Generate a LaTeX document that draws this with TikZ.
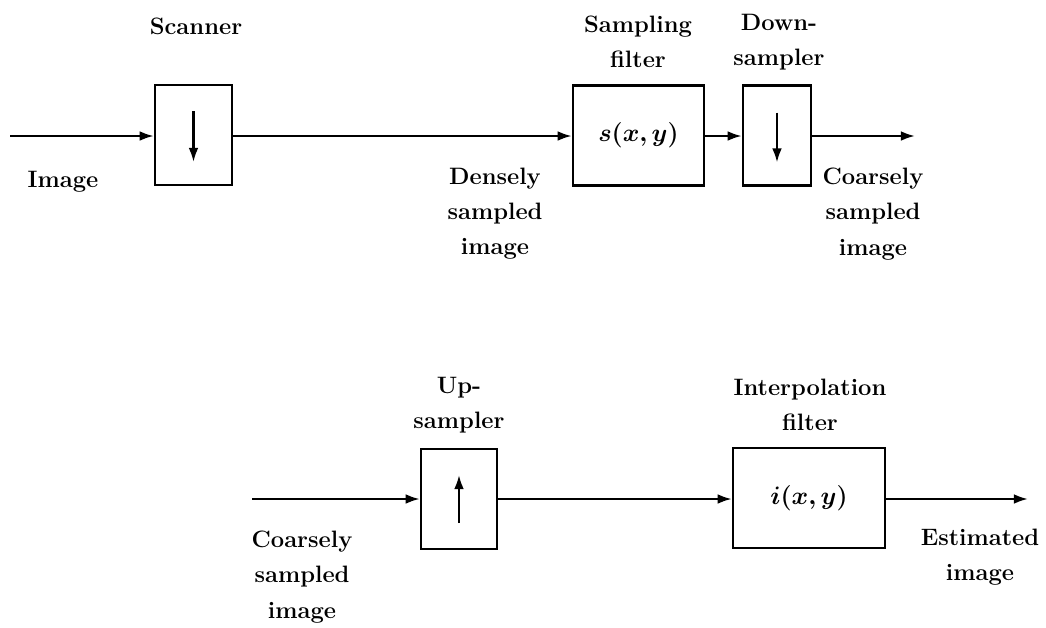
\documentclass[tikz,border=0pt]{standalone}
\usepackage{amsmath}
\usepackage{bm}
\usetikzlibrary{arrows.meta,positioning}

\begin{document}
\begin{tikzpicture}[x=0.02cm, y=-0.02cm,
		every node/.style={font=\fontsize{13.5}{20}\selectfont\bfseries, align=center},
		block/.style={draw, line width=1.4pt, inner sep=0pt, minimum height=2cm},
		sig/.style={-{Latex[length=8pt,width=5.5pt]}, line width=1.3pt},
		fn/.style={font=\fontsize{15.5}{20}\selectfont}]
	\useasboundingbox (0,0) rectangle (1046,627);

	% Sampling
	\coordinate (in1) at (10,136);
	\coordinate (out1) at (915,136);
	\node[block, minimum width=1.54cm] (scan) at (193.5,135) {};
	\node[block, fn, minimum width=2.62cm] (sfilt) at (638.5,135.5) {$\bm{s(x,y)}$};
	\node[block, minimum width=1.36cm] (down) at (777,135.5) {};
	\draw[sig] ([yshift=0.48cm]scan.center) -- ([yshift=-0.54cm]scan.center);
	\draw[sig] ([yshift=0.46cm]down.center) -- ([yshift=-0.54cm]down.center);
	\draw[sig] (in1) -- (scan.west |- in1);
	\draw[sig] (scan.east |- in1) -- (sfilt.west |- in1);
	\draw[sig] (sfilt.east |- in1) -- (down.west |- in1);
	\draw[sig] (down.east |- in1) -- (out1);
	\node (scanlbl) at (196,26) {Scanner};
	\node (imglbl) at (63,182) {Image};
	\node (denselbl) at (495,214) {Densely\\sampled\\image};
	\node (sfiltlbl) at (638,42) {Sampling\\filter};
	\node (downlbl) at (779,42) {Down-\\sampler};
	\node (coarse1lbl) at (873,214) {Coarsely\\sampled\\image};

	% Interpolation
	\coordinate (in2) at (252,499);
	\coordinate (out2) at (1028,499);
	\node[block, minimum width=1.52cm] (up) at (459,499) {};
	\node[block, fn, minimum width=3.04cm] (ifilt) at (809,498) {$\bm{i(x,y)}$};
	\draw[sig] ([yshift=-0.48cm]up.center) -- ([yshift=0.48cm]up.center);
	\draw[sig] (in2) -- (up.west |- in2);
	\draw[sig] (up.east |- in2) -- (ifilt.west |- in2);
	\draw[sig] (ifilt.east |- in2) -- (out2);
	\node (uplbl) at (459,405) {Up-\\sampler};
	\node (ifiltlbl) at (810,405) {Interpolation\\filter};
	\node (coarse2lbl) at (302,577) {Coarsely\\sampled\\image};
	\node (estlbl) at (980,557) {Estimated\\image};
\end{tikzpicture}
\end{document}
